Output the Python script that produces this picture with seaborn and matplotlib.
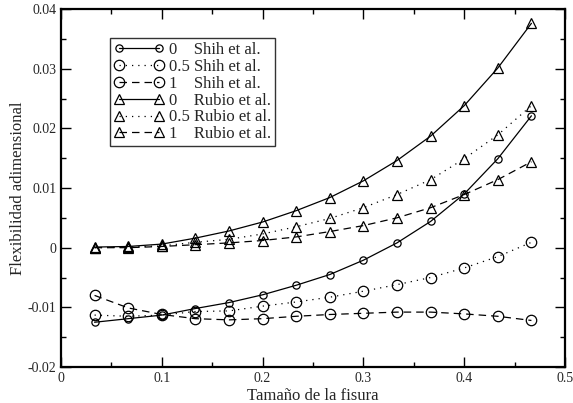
import matplotlib
matplotlib.use("Agg")
import matplotlib.pyplot as plt
import seaborn as sns
import numpy as np
from matplotlib.ticker import MultipleLocator

sns.set_theme(style="white")
plt.rcParams['font.family'] = ['Liberation Serif', 'DejaVu Serif']
plt.rcParams['mathtext.fontset'] = 'stix'

crack = [0.0333, 0.0667, 0.1, 0.1333, 0.1667, 0.2, 0.2333, 0.2667,
         0.3, 0.3333, 0.3667, 0.4, 0.4333, 0.4667]

shih_0 = [-0.0125, -0.0119, -0.0113, -0.0102, -0.0092, -0.0079, -0.0063, -0.0045,
          -0.0021, 0.0008, 0.0044, 0.0090, 0.0149, 0.0221]
shih_05 = [-0.0113, -0.0115, -0.0113, -0.0107, -0.0106, -0.0098, -0.0091, -0.0083,
           -0.0073, -0.0062, -0.0050, -0.0034, -0.0015, 0.0009]
shih_1 = [-0.0080, -0.0101, -0.0112, -0.0119, -0.0121, -0.0119, -0.0115, -0.0112,
          -0.0110, -0.0108, -0.0108, -0.0111, -0.0115, -0.0122]
rubio_0 = [0.0001, 0.0002, 0.0006, 0.0016, 0.0028, 0.0043, 0.0062, 0.0084,
           0.0112, 0.0146, 0.0187, 0.0238, 0.0301, 0.0376]
rubio_05 = [0.0000, 0.0001, 0.0003, 0.0009, 0.0014, 0.0023, 0.0035, 0.0049,
            0.0067, 0.0089, 0.0114, 0.0149, 0.0189, 0.0238]
rubio_1 = [0.0000, 0.0000, 0.0002, 0.0005, 0.0008, 0.0012, 0.0018, 0.0027,
           0.0037, 0.0050, 0.0067, 0.0089, 0.0114, 0.0144]

labels = ["0    Shih et al.", "0.5 Shih et al.", "1    Shih et al.",
          "0    Rubio et al.", "0.5 Rubio et al.", "1    Rubio et al."]

xticks = [0, 0.1, 0.2, 0.3, 0.4, 0.5]
xticklabels = ["0", "0.1", "0.2", "0.3", "0.4", "0.5"]
yticks = [-0.02, -0.01, 0, 0.01, 0.02, 0.03, 0.04]
yticklabels = ["-0.02", "-0.01", "0", "0.01", "0.02", "0.03", "0.04"]

series = [shih_0, shih_05, shih_1, rubio_0, rubio_05, rubio_1]
markers = ['o', 'o', 'o', '^', '^', '^']
msizes = [5.2, 7.5, 7.5, 7.8, 7.8, 7.8]
styles = ['-', (0, (1, 4)), (0, (6, 4)), '-', (0, (1, 4)), (0, (6, 4))]

fig = plt.figure(figsize=(5.73, 4.03), dpi=100)
ax = fig.add_axes([61/573, 1-367/403, 504/573, 358/403])

for vals, lab, mk, ms, ls in zip(series, labels, markers, msizes, styles):
    sns.lineplot(x=crack, y=vals, ax=ax, color='black', marker=mk, markersize=ms,
                 markerfacecolor='none', markeredgecolor='black', markeredgewidth=0.9,
                 linewidth=0.9, linestyle=ls, label=lab)

ax.set_xlim(0, 0.5)
ax.set_ylim(-0.02, 0.04)
ax.xaxis.set_minor_locator(MultipleLocator(0.05))
ax.yaxis.set_minor_locator(MultipleLocator(0.005))
ax.set_xticks(xticks)
ax.set_xticklabels(xticklabels)
ax.set_yticks(yticks)
ax.set_yticklabels(yticklabels)
ax.tick_params(which='both', direction='in', top=True, right=True, bottom=True, left=True,
               color='black', labelsize=10, pad=3.5)
ax.tick_params(which='major', length=7, width=1)
ax.tick_params(which='minor', length=3.5, width=1)
for sp in ax.spines.values():
    sp.set_color('black')
    sp.set_linewidth(1.6)

ax.set_xlabel("Tamaño de la fisura", fontsize=12)
ax.set_ylabel("Flexibilidad adimensional", fontsize=12)
ax.xaxis.set_label_coords(0.5, -0.058)
ax.yaxis.set_label_coords(-0.07, 0.5)

leg = ax.legend(loc='upper left', bbox_to_anchor=(0.097, 0.919), borderaxespad=0,
                fontsize=12, numpoints=2, handlelength=3.0, handletextpad=0.3,
                labelspacing=0.05, borderpad=0.25, fancybox=False, frameon=True)
leg.get_frame().set_edgecolor('black')
leg.get_frame().set_linewidth(1.0)

fig.savefig("out.png", dpi=100)
